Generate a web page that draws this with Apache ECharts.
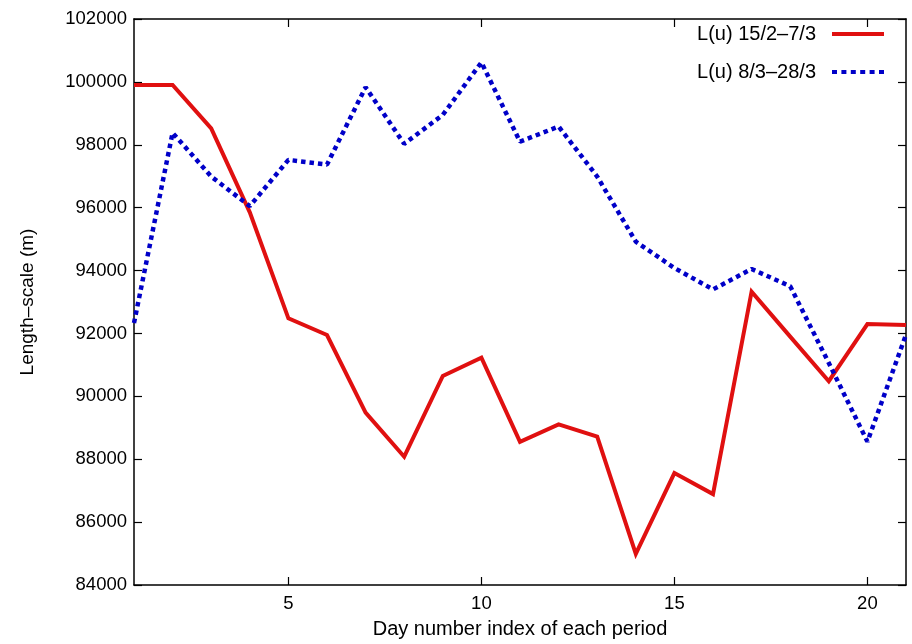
<!DOCTYPE html>
<html><head><meta charset="utf-8">
<script src="https://cdn.jsdelivr.net/npm/echarts@6/dist/echarts.min.js"></script>
<style>html,body{margin:0;padding:0;background:#fff}#c{width:912px;height:644px}</style>
</head><body><div id="c"></div>
<script>
const days = [1,2,3,4,5,6,7,8,9,10,11,12,13,14,15,16,17,18,19,20,21];
const redValues = [99900,99900,98520,95850,92480,91950,89480,88080,90650,91230,88550,89110,88720,84990,87560,86890,93330,91900,90480,92300,92270];
const blueValues = [92330,98380,96990,96050,97520,97370,99830,98030,98950,100620,98100,98580,96990,94920,94080,93400,94050,93500,91060,88560,91960];
const redName = 'L(u) 15/2\u20137/3';
const blueName = 'L(u) 8/3\u201328/3';
const xTicks = [5,10,15,20];
const yMin = 84000, yMax = 102000, yStep = 2000;

const FONT = 'Liberation Sans, Arial, sans-serif';
const RED = '#e01010', BLUE = '#0000c8';
const redIcon = 'path://M0,0L52,0L52,4L0,4Z';
let dots = '';
for (let k = 0; k < 6; k++) { const x0 = k * 9.4; dots += 'M' + x0 + ',0L' + (x0 + 5) + ',0L' + (x0 + 5) + ',4L' + x0 + ',4Z'; }
const blueIcon = 'path://' + dots;

const chart = echarts.init(document.getElementById('c'));
const axisLine = {show:true, lineStyle:{color:'#000', width:1.5}};
const tick = {show:true, inside:true, length:8, lineStyle:{color:'#000', width:1.2}};
chart.setOption({
  animation:false,
  backgroundColor:'#fff',
  grid:{left:134, right:6, top:19, bottom:58, containLabel:false},
  legend:{
    orient:'vertical', right:23, top:19, align:'right', itemGap:18,
    itemWidth:52, itemHeight:4,
    textStyle:{fontFamily:FONT, fontSize:20, color:'#000', padding:[0,11,0,0]},
    data:[{name:redName, icon:redIcon, itemStyle:{color:RED}}, {name:blueName, icon:blueIcon, itemStyle:{color:BLUE}}]
  },
  xAxis:[{
    type:'value', min:1, max:21, position:'bottom',
    name:'Day number index of each period', nameLocation:'middle', nameGap:34,
    nameTextStyle:{fontFamily:FONT, fontSize:20, color:'#000'},
    axisLine:axisLine, splitLine:{show:false},
    axisTick:Object.assign({customValues:xTicks}, tick),
    axisLabel:{customValues:xTicks, fontFamily:FONT, fontSize:18.5, color:'#000', margin:9}
  },{
    type:'value', min:1, max:21, position:'top',
    axisLine:axisLine, splitLine:{show:false},
    axisTick:Object.assign({customValues:xTicks}, tick),
    axisLabel:{show:false}
  }],
  yAxis:[{
    type:'value', min:yMin, max:yMax, interval:yStep, position:'left',
    name:'Length\u2013scale (m)', nameLocation:'middle', nameGap:97, nameRotate:90,
    nameTextStyle:{fontFamily:FONT, fontSize:19, color:'#000'},
    axisLine:axisLine, splitLine:{show:false}, axisTick:tick,
    axisLabel:{fontFamily:FONT, fontSize:18.5, color:'#000', margin:7, formatter:v=>String(v)}
  },{
    type:'value', min:yMin, max:yMax, interval:yStep, position:'right',
    axisLine:axisLine, splitLine:{show:false}, axisTick:tick,
    axisLabel:{show:false}
  }],
  series:[{
    name:redName, type:'line', symbol:'none',
    data:days.map((d,i)=>[d, redValues[i]]),
    lineStyle:{color:RED, width:4, join:'miter'},
    itemStyle:{color:RED}
  },{
    name:blueName, type:'line', symbol:'none',
    data:days.map((d,i)=>[d, blueValues[i]]),
    lineStyle:{color:BLUE, width:4.5, type:[4.5,4], cap:'butt'},
    itemStyle:{color:BLUE}
  }]
});
</script></body></html>
